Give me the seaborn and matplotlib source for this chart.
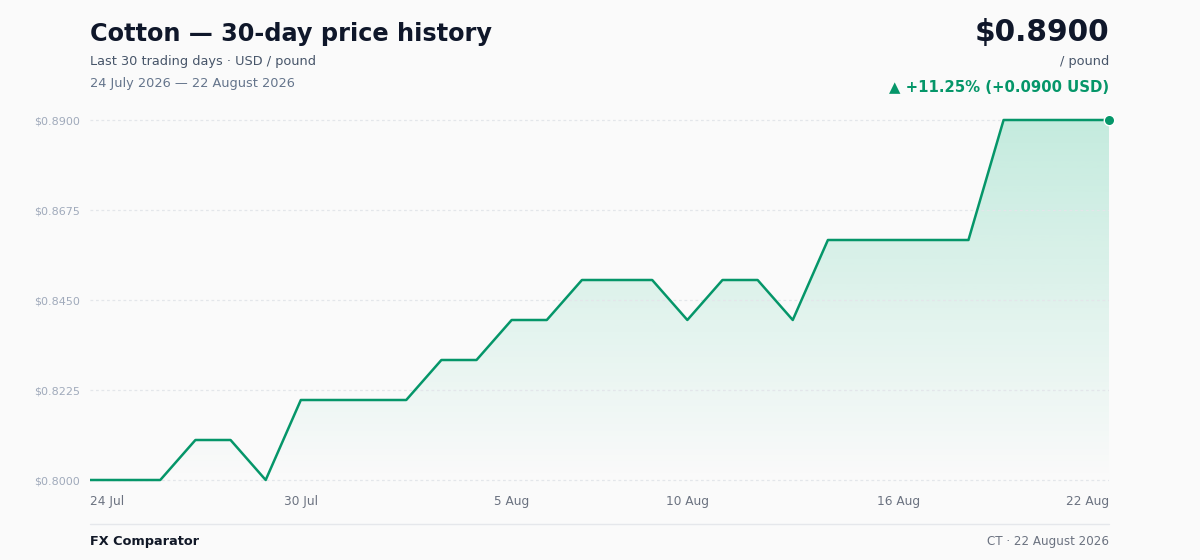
import numpy as np
import pandas as pd
import matplotlib
matplotlib.use("Agg")
import matplotlib.pyplot as plt
from matplotlib.lines import Line2D
import seaborn as sns

# ---- data ----
dates = pd.date_range("2026-07-24", "2026-08-22", freq="D")
prices = [0.80, 0.80, 0.80, 0.81, 0.81, 0.80, 0.82, 0.82, 0.82, 0.82,
          0.83, 0.83, 0.84, 0.84, 0.85, 0.85, 0.85, 0.84, 0.85, 0.85,
          0.84, 0.86, 0.86, 0.86, 0.86, 0.86, 0.89, 0.89, 0.89, 0.89]
y_ticks = [0.8000, 0.8225, 0.8450, 0.8675, 0.8900]
y_tick_labels = ["$0.8000", "$0.8225", "$0.8450", "$0.8675", "$0.8900"]
x_tick_idx = [0, 6, 12, 17, 23, 29]
x_tick_labels = ["24 Jul", "30 Jul", "5 Aug", "10 Aug", "16 Aug", "22 Aug"]

title = "Cotton — 30-day price history"
subtitle = "Last 30 trading days · USD / pound"
date_range_text = "24 July 2026 — 22 August 2026"
price_text = "$0.8900"
unit_text = "/ pound"
change_text = "▲ +11.25% (+0.0900 USD)"
footer_left = "FX Comparator"
footer_right = "CT · 22 August 2026"

GREEN = "#059669"
FILL = "#10b981"
BG = "#fafafa"

sns.set_theme(style="white")
plt.rcParams["font.family"] = ["DejaVu Sans"]

W, H = 1200, 560
fig = plt.figure(figsize=(12, 5.6), dpi=100, facecolor=BG)

left, right = 90, 1109
top_px, bot_px = 115, 485
ax = fig.add_axes([left / W, 1 - bot_px / H, (right - left) / W, (bot_px - top_px) / H])
ax.set_facecolor(BG)

df = pd.DataFrame({"i": np.arange(len(prices)), "price": prices, "date": dates})

pad = (0.89 - 0.80) / 360 * 5
ymin, ymax = 0.80 - pad, 0.89 + pad
ax.set_xlim(0, len(prices) - 1)
ax.set_ylim(ymin, ymax)

# gradient fill
fill_base = min(prices)
poly = ax.fill_between(df["i"], df["price"], fill_base, color="none", lw=0)
rgb = matplotlib.colors.to_rgb(FILL)
n = 256
alphas = np.linspace(0.0, 0.23, n)[:, None]
img = np.zeros((n, 1, 4))
img[..., 0], img[..., 1], img[..., 2] = rgb
img[..., 3] = alphas
im = ax.imshow(img, aspect="auto", origin="lower",
               extent=[0, len(prices) - 1, fill_base, max(prices)], zorder=1)
path = poly.get_paths()[0]
im.set_clip_path(path, transform=ax.transData)

sns.lineplot(data=df, x="i", y="price", ax=ax, color=GREEN, linewidth=1.8, zorder=3)
ax.plot([df["i"].iloc[-1]], [prices[-1]], marker="o", markersize=7.5, color=GREEN,
        markeredgecolor="white", markeredgewidth=1.0, clip_on=False, zorder=4)

ax.set_xlabel("")
ax.set_ylabel("")
for s in ax.spines.values():
    s.set_visible(False)
ax.set_yticks(y_ticks)
ax.set_yticklabels(y_tick_labels, color="#a0aabb", fontsize=8)
ax.set_xticks(x_tick_idx)
ax.set_xticklabels(x_tick_labels, color="#6b7280", fontsize=8.75)
ax.tick_params(axis="both", length=0)
ax.tick_params(axis="y", pad=7)
ax.tick_params(axis="x", pad=7)
xl = ax.get_xticklabels()
xl[0].set_ha("left")
xl[-1].set_ha("right")
ax.set_axisbelow(False)
ax.grid(axis="y", color="#e3e6ea", linestyle=(0, (2.2, 2.2)), linewidth=0.9, zorder=2)
ax.grid(axis="x", visible=False)

def fy(py):
    return 1 - py / H

fig.text(left / W, fy(34), title, fontsize=17.3, fontweight="bold", color="#0f172a",
         ha="left", va="center")
fig.text(left / W, fy(61), subtitle, fontsize=9.3, color="#475569", ha="left", va="center")
fig.text(left / W, fy(83), date_range_text, fontsize=9.3, color="#64748b", ha="left", va="center")
fig.text(right / W, fy(32), price_text, fontsize=21.3, fontweight="bold", color="#0f172a",
         ha="right", va="center")
fig.text(right / W, fy(61), unit_text, fontsize=9.3, color="#475569", ha="right", va="center")
fig.text(right / W, fy(87), change_text, fontsize=10.75, fontweight="bold", color=GREEN,
         ha="right", va="center")

fig.add_artist(Line2D([left / W, right / W], [fy(524), fy(524)], color="#e5e7eb", lw=1.0))
fig.text(left / W, fy(541), footer_left, fontsize=9.25, fontweight="bold", color="#111827",
         ha="left", va="center")
fig.text(right / W, fy(541), footer_right, fontsize=8.6, color="#6b7280", ha="right", va="center")

fig.savefig("out.png", dpi=100, facecolor=BG)
